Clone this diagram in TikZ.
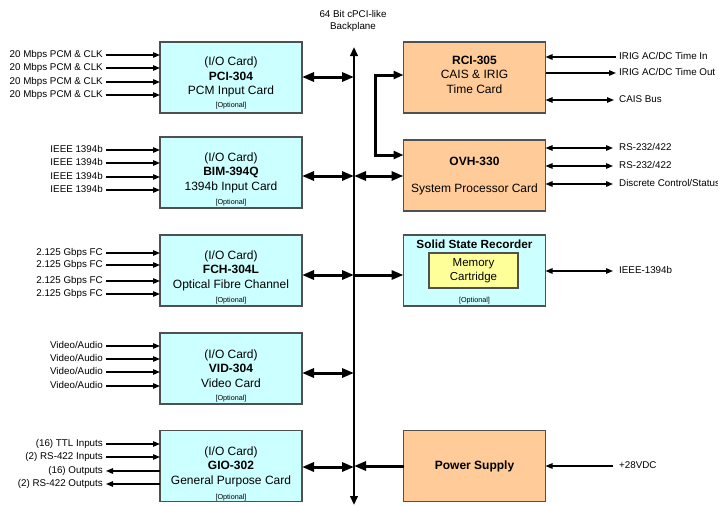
\documentclass[tikz,border=0pt]{standalone}
\usepackage{fontspec}
\setmainfont{Liberation Sans}
\usetikzlibrary{arrows.meta,calc}
\definecolor{cardcyan}{HTML}{CCFFFF}
\definecolor{cardorange}{HTML}{FFCC99}
\definecolor{cartyellow}{HTML}{FFFF99}
\definecolor{boxedge}{HTML}{505050}
\begin{document}
\begin{tikzpicture}[x=1pt,y=-1pt,
  card/.style={draw=boxedge, line width=1.1pt, minimum width=142pt, minimum height=71pt, inner sep=0pt, outer sep=0pt},
  iocard/.style={card, fill=cardcyan},
  syscard/.style={card, fill=cardorange},
  cardtext/.style={align=center, inner sep=0pt, font=\fontsize{12}{14.5}\selectfont},
  optl/.style={inner sep=0pt, font=\fontsize{7.2}{8}\selectfont},
  sig/.style={inner sep=0pt, font=\fontsize{9.8}{11}\selectfont, text height=7pt, text depth=2pt},
  thinarr/.style={line width=1.3pt, >={Triangle[length=7pt,width=5.5pt]}},
  busarr/.style={line width=3pt, >={Triangle[length=12pt,width=9pt]}},
  bparr/.style={line width=2.2pt, >={Triangle[length=9pt,width=7.5pt]}},
  linkarr/.style={line width=3pt, >={Triangle[length=10pt,width=8pt]}}
]
\useasboundingbox (0,0) rectangle (718,506);

% backplane
\node[align=center, inner sep=0pt, font=\fontsize{9.8}{12.5}\selectfont] (bptitle) at (353,21) {64 Bit cPCI-like\\Backplane};
\coordinate (bpT) at (354,47);
\coordinate (bpB) at (354,505);
\draw[bparr,<->] (bpT) -- (bpB);

% ---------- left I/O cards ----------
\node[iocard] (pci) at (231,77.5) {};
\node[cardtext] (pcit) at ($(pci.north)+(0,35)$) {(I/O Card)\\\textbf{PCI-304}\\PCM Input Card};
\node[optl] (pcio) at ($(pci.north)+(0,64)$) {[Optional]};

\node[iocard] (bim) at (231,172.5) {};
\node[cardtext] (bimt) at ($(bim.north)+(0,35.5)$) {(I/O Card)\\\textbf{BIM-394Q}\\1394b Input Card};
\node[optl] (bimo) at ($(bim.north)+(0,66)$) {[Optional]};

\node[iocard] (fch) at (231,270.5) {};
\node[cardtext] (fcht) at ($(fch.north)+(0,35.5)$) {(I/O Card)\\\textbf{FCH-304L}\\Optical Fibre Channel};
\node[optl] (fcho) at ($(fch.north)+(0,66)$) {[Optional]};

\node[iocard] (vid) at (231,368.5) {};
\node[cardtext] (vidt) at ($(vid.north)+(0,35.5)$) {(I/O Card)\\\textbf{VID-304}\\Video Card};
\node[optl] (vido) at ($(vid.north)+(0,66)$) {[Optional]};

\node[iocard] (gio) at (231,466) {};
\node[cardtext] (giot) at ($(gio.north)+(0,36)$) {(I/O Card)\\\textbf{GIO-302}\\General Purpose Card};
\node[optl] (gioo) at ($(gio.north)+(0,67)$) {[Optional]};

% left signal labels
\foreach \n/\y in {1/55,2/68,3/82,4/95}{
  \node[sig, anchor=east] (pcil\n) at (103,\y) {20 Mbps PCM \& CLK};
  \draw[thinarr,->] ([xshift=3pt]pcil\n.east) -- (pcil\n -| pci.west);
}
\foreach \n/\y in {1/150,2/163,3/177,4/190}{
  \node[sig, anchor=east] (biml\n) at (103,\y) {IEEE 1394b};
  \draw[thinarr,->] ([xshift=3pt]biml\n.east) -- (biml\n -| bim.west);
}
\foreach \n/\y in {1/253,2/265,3/281,4/294}{
  \node[sig, anchor=east] (fchl\n) at (103,\y) {2.125 Gbps FC};
  \draw[thinarr,->] ([xshift=3pt]fchl\n.east) -- (fchl\n -| fch.west);
}
\foreach \n/\y in {1/346,2/359,3/372,4/386}{
  \node[sig, anchor=east] (vidl\n) at (103,\y) {Video/Audio};
  \draw[thinarr,->] ([xshift=3pt]vidl\n.east) -- (vidl\n -| vid.west);
}
\node[sig, anchor=east] (giol1) at (103,444) {(16) TTL Inputs};
\node[sig, anchor=east] (giol2) at (103,457) {(2) RS-422 Inputs};
\node[sig, anchor=east] (giol3) at (103,471) {(16) Outputs};
\node[sig, anchor=east] (giol4) at (103,484) {(2) RS-422 Outputs};
\draw[thinarr,->] ([xshift=3pt]giol1.east) -- (giol1 -| gio.west);
\draw[thinarr,->] ([xshift=3pt]giol2.east) -- (giol2 -| gio.west);
\draw[thinarr,<-] ([xshift=3pt]giol3.east) -- (giol3 -| gio.west);
\draw[thinarr,<-] ([xshift=3pt]giol4.east) -- (giol4 -| gio.west);

% ---------- right system cards ----------
\node[syscard] (rci) at (474.5,77.5) {};
\node[cardtext] (rcit) at ($(rci.center)+(0,-3)$) {\textbf{RCI-305}\\CAIS \& IRIG\\Time Card};

\node[syscard] (ovh) at (474.5,175.5) {};
\node[cardtext, font=\fontsize{12}{27}\selectfont] (ovht) at ($(ovh.center)+(0,1)$) {\textbf{OVH-330}\\System Processor Card};

\node[iocard] (ssr) at (474.5,270.5) {};
\node[inner sep=0pt, font=\bfseries\fontsize{11.8}{13}\selectfont] (ssrt) at ($(ssr.north)+(0,9)$) {Solid State Recorder};
\node[draw=boxedge, line width=1.1pt, fill=cartyellow, minimum width=89pt, minimum height=35pt, inner sep=0pt, align=center, font=\fontsize{11.5}{13.5}\selectfont] (mem) at (473.5,270.5) {Memory\\Cartridge};
\node[optl] (ssro) at ($(ssr.north)+(0,66)$) {[Optional]};

\node[syscard] (ps) at (474.5,466) {};
\node[cardtext] (pst) at (ps.center) {\textbf{Power Supply}};

% right signal labels
\node[sig, anchor=west] (rcir1) at (619,57) {IRIG AC/DC Time In};
\node[sig, anchor=west] (rcir2) at (619,73) {IRIG AC/DC Time Out};
\node[sig, anchor=west] (rcir3) at (619,100) {CAIS Bus};
\draw[thinarr,<-] (rcir1 -| rci.east) -- ([xshift=-3pt]rcir1.west);
\draw[thinarr,->] (rcir2 -| rci.east) -- ([xshift=-3pt]rcir2.west);
\draw[thinarr,<->] (rcir3 -| rci.east) -- ([xshift=-5pt]rcir3.west);

\node[sig, anchor=west] (ovhr1) at (619,148) {RS-232/422};
\node[sig, anchor=west] (ovhr2) at (619,166) {RS-232/422};
\node[sig, anchor=west] (ovhr3) at (619,184) {Discrete Control/Status};
\foreach \n in {1,2,3}{
  \draw[thinarr,<->] (ovhr\n -| ovh.east) -- ([xshift=-6pt]ovhr\n.west);
}

\node[sig, anchor=west] (ssrr) at (619,271) {IEEE-1394b};
\draw[thinarr,<->] (ssrr -| ssr.east) -- ([xshift=-6pt]ssrr.west);

\node[sig, anchor=west] (psr) at (619,466) {+28VDC};
\draw[thinarr,<-] (psr -| ps.east) -- ([xshift=-6pt]psr.west);

% RCI <-> OVH link
\coordinate (lk) at (375,0);
\coordinate (rcin) at ($(rci.west)+(0,-2.5)$);
\coordinate (ovhin) at ($(ovh.west)+(0,-20.5)$);
\draw[linkarr,<->] (rcin) -- (rcin -| lk) -- (ovhin -| lk) -- (ovhin);

% bus connections
\coordinate (b1) at (354,77);
\coordinate (b2) at (354,176);
\coordinate (b3) at (354,275);
\coordinate (b4) at (354,373);
\coordinate (b5) at (354,467);
\coordinate (b6) at (354,466);
\draw[busarr,<->] (b1 -| pci.east) -- (b1);
\draw[busarr,<->] (b2 -| bim.east) -- (b2);
\draw[busarr,<->] (b3 -| fch.east) -- (b3);
\draw[busarr,<->] (b4 -| vid.east) -- (b4);
\draw[busarr,<->] (b5 -| gio.east) -- (b5);
\draw[busarr,<->] (b2) -- (b2 -| ovh.west);
\draw[busarr,->] (b3) -- (b3 -| ssr.west);
\draw[busarr,<-] (b6) -- (b6 -| ps.west);
\end{tikzpicture}
\end{document}
